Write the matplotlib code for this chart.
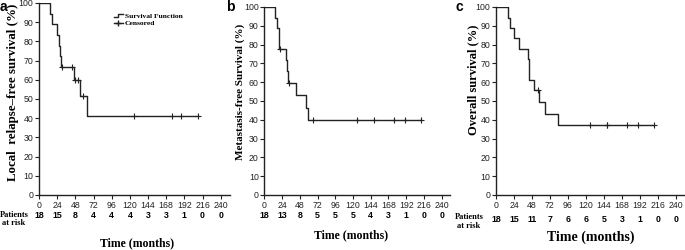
import matplotlib.pyplot as plt
from matplotlib.lines import Line2D
from matplotlib.legend_handler import HandlerBase

# panel a: local relapse-free survival
a_times = [0, 15, 17, 24, 27, 28, 29, 46, 54, 63.5, 210]
a_surv = [100, 94.4, 88.9, 83.3, 77.8, 72.2, 66.7, 60.0, 51.4, 41.1, 41.1]
a_cens_t = [31, 43, 48, 51, 58, 126, 175, 188, 210]
a_cens_s = [66.7, 66.7, 60.0, 60.0, 51.4, 41.1, 41.1, 41.1, 41.1]
a_risk = [18, 15, 8, 4, 4, 4, 3, 3, 1, 0, 0]

# panel b: metastasis-free survival
b_times = [0, 14.5, 17.5, 19.5, 20, 30, 31, 32, 42.5, 56.5, 58.5, 212]
b_surv = [100, 94.4, 88.9, 83.3, 77.8, 71.8, 65.8, 59.8, 53.2, 46.5, 39.9, 39.9]
b_cens_t = [21, 33, 66, 126, 149, 175, 190, 212]
b_cens_s = [77.8, 59.8, 39.9, 39.9, 39.9, 39.9, 39.9, 39.9]
b_risk = [18, 13, 8, 5, 5, 5, 4, 3, 1, 0, 0]

# panel c: overall survival
c_times = [0, 15.6, 18.7, 24, 31.2, 43.2, 44.5, 51, 57.8, 65.4, 82.5, 211]
c_surv = [100, 94.4, 88.9, 83.3, 77.8, 72.2, 61.1, 55.6, 49.4, 43.2, 37.0, 37.0]
c_cens_t = [56.5, 125.6, 148, 148.5, 174.6, 189, 211]
c_cens_s = [55.6, 37.0, 37.0, 37.0, 37.0, 37.0, 37.0]
c_risk = [18, 15, 11, 7, 6, 6, 5, 3, 1, 0, 0]

month_ticks = list(range(0, 241, 24))

serif = ['Liberation Serif', 'DejaVu Serif']
sans = ['Liberation Sans', 'DejaVu Sans']
col = '#222222'


class StepHandler(HandlerBase):
    # little step shape for the "Survival Function" legend entry
    def create_artists(self, legend, orig_handle, xdescent, ydescent,
                       width, height, fontsize, trans):
        x = [-xdescent, -xdescent + 0.45 * width, -xdescent + 0.45 * width, -xdescent + width]
        y = [-ydescent + 0.15 * height, -ydescent + 0.15 * height,
             -ydescent + 0.8 * height, -ydescent + 0.8 * height]
        return [Line2D(x, y, color=col, lw=1.0, transform=trans)]


fig = plt.figure(figsize=(6.85, 2.5), dpi=100)

# layout in pixels (from top-left of the 685x250 image)
panels = [
    dict(t=a_times, s=a_surv, ct=a_cens_t, cs=a_cens_s, risk=a_risk,
         pos=[39, 3, 190.8], ylab='Local  relapse\u2013free survival (%)', yls=9.3,
         ylx=13, yly=92, letter='a', lx=0, xlab=(137, 243), xls=8.5, risk_y=216,
         patients=(14, 215, 223)),
    dict(t=b_times, s=b_surv, ct=b_cens_t, cs=b_cens_s, risk=b_risk,
         pos=[264.3, 7, 186.2], ylab='Metastasis-free Survival (%)', yls=8,
         ylx=240, yly=92, letter='b', lx=226, xlab=(351, 235), xls=8.5, risk_y=215,
         patients=None),
    dict(t=c_times, s=c_surv, ct=c_cens_t, cs=c_cens_s, risk=c_risk,
         pos=[496, 7, 188.7], ylab='Overall survival (%)', yls=9,
         ylx=473, yly=80, letter='c', lx=456, xlab=(591, 237), xls=10, risk_y=220,
         patients=(469, 217, 226)),
]

W, H = 685.0, 250.0
bottom_px = 195

for p in panels:
    left, top, width = p['pos']
    ax = fig.add_axes([left / W, 1 - bottom_px / H, width / W, (bottom_px - top) / H])
    ax.step(p['t'], p['s'], where='post', color=col, lw=1.0)
    ax.plot(p['ct'], p['cs'], '+', color=col, ms=4, mew=0.8)
    ax.set_xlim(0, 252)
    ax.set_ylim(0, 100)
    ax.set_xticks(month_ticks)
    ax.set_yticks(range(0, 101, 10))
    ax.spines['top'].set_visible(False)
    ax.spines['right'].set_visible(False)
    for sp in ['left', 'bottom']:
        ax.spines[sp].set_linewidth(1.0)
        ax.spines[sp].set_color(col)
    ax.tick_params(length=3, width=0.8, pad=1, labelsize=6.3, colors=col)
    for lab in ax.get_xticklabels() + ax.get_yticklabels():
        lab.set_family(sans)

    # y label
    fig.text(p['ylx'] / W, 1 - p['yly'] / H, p['ylab'], rotation=90,
             ha='center', va='center', family=serif, weight='bold', fontsize=p['yls'])
    # panel letter
    fig.text(p['lx'] / W, 1.0, p['letter'], ha='left', va='top',
             family=sans, weight='bold', fontsize=10)
    # x label
    fig.text(p['xlab'][0] / W, 1 - p['xlab'][1] / H, 'Time (months)',
             ha='center', va='center', family=serif, weight='bold', fontsize=p['xls'])
    # patients at risk
    for m, n in zip(month_ticks, p['risk']):
        fig.text((left + m / 252 * width) / W, 1 - p['risk_y'] / H, str(n),
                 ha='center', va='center', family=sans, weight='bold', fontsize=6.3)
    if p['patients']:
        px, py1, py2 = p['patients']
        fig.text(px / W, 1 - py1 / H, 'Patients', ha='center', va='center',
                 family=serif, weight='bold', fontsize=6)
        fig.text(px / W, 1 - py2 / H, 'at risk', ha='center', va='center',
                 family=serif, weight='bold', fontsize=6)
    if p['letter'] == 'a':
        step_h = Line2D([], [], color=col, lw=1.0)
        cens_h = Line2D([], [], color=col, lw=1.0, marker='+', ms=5)
        ax.legend([step_h, cens_h], ['Survival Function', 'Censored'], loc='upper left',
                  bbox_to_anchor=(0.375, 0.965), frameon=False, handlelength=1.3,
                  handletextpad=0.2, labelspacing=0.15, borderaxespad=0,
                  handler_map={step_h: StepHandler()},
                  prop=dict(family=serif, weight='bold', size=5.4))

fig.savefig('out.png', dpi=100)
